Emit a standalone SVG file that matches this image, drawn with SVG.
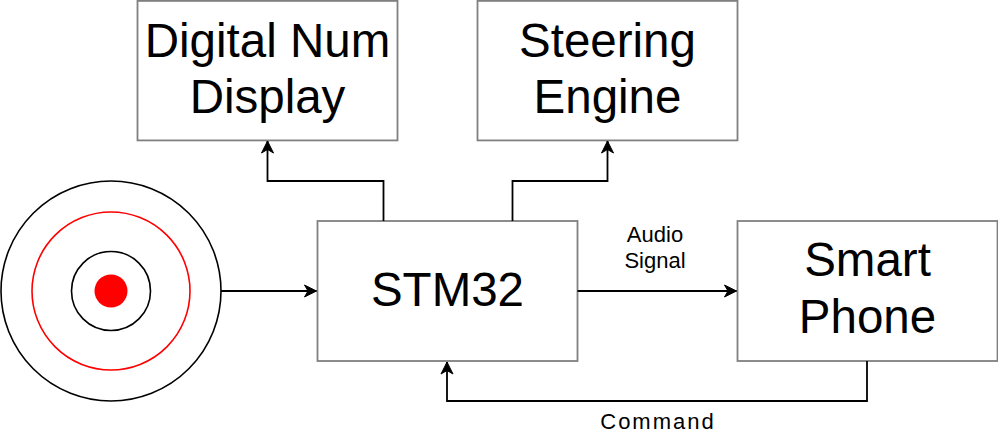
<svg xmlns="http://www.w3.org/2000/svg" width="998" height="442" viewBox="0 0 998 442">
  <style>
    .box { fill: #ffffff; stroke: #808080; stroke-width: 1.8; }
    .big { font-family: "Liberation Sans", Arial, sans-serif; font-size: 47.5px; fill: #000; text-anchor: middle; }
    .small { font-family: "Liberation Sans", Arial, sans-serif; font-size: 22px; fill: #000; text-anchor: middle; }
    .edge { fill: none; stroke: #000; stroke-width: 1.8; }
  </style>
  <defs>
    <marker id="arrow" markerUnits="userSpaceOnUse" viewBox="-13 -7 14 14" refX="0" refY="0" markerWidth="14" markerHeight="14" orient="auto">
      <path d="M0,0 L-12,-6 L-8.5,0 L-12,6 Z" fill="#000" stroke="#000" stroke-width="1"/>
    </marker>
  </defs>
  <rect width="998" height="442" fill="#ffffff"/>

  <g id="target">
    <circle cx="111" cy="291" r="110" fill="#ffffff" stroke="#000" stroke-width="1.6"/>
    <circle cx="111" cy="291" r="79" fill="none" stroke="#ff0000" stroke-width="1.6"/>
    <circle cx="111" cy="291" r="39.5" fill="none" stroke="#000" stroke-width="1.6"/>
    <circle cx="111" cy="291" r="16.5" fill="#ff0000"/>
  </g>

  <g id="digital-num-display">
    <rect class="box" x="137.5" y="0.9" width="260" height="139.5"/>
    <text class="big" x="267.5" y="57">Digital Num</text>
    <text class="big" x="267.5" y="113">Display</text>
  </g>

  <g id="steering-engine">
    <rect class="box" x="477.5" y="0.9" width="260" height="139.5"/>
    <text class="big" x="607.5" y="57">Steering</text>
    <text class="big" x="607.5" y="113">Engine</text>
  </g>

  <g id="stm32">
    <rect class="box" x="317.5" y="221" width="260" height="140"/>
    <text class="big" x="447.5" y="305.5">STM32</text>
  </g>

  <g id="smart-phone">
    <rect class="box" x="737.5" y="221" width="260" height="140"/>
    <text class="big" x="867.5" y="276">Smart</text>
    <text class="big" x="867.5" y="332.5">Phone</text>
  </g>

  <g id="connectors">
    <path class="edge" d="M221,291 L316.5,291" marker-end="url(#arrow)"/>
    <path class="edge" d="M383.5,221 L383.5,181 L267.5,181 L267.5,141" marker-end="url(#arrow)"/>
    <path class="edge" d="M512.5,221 L512.5,181 L607.5,181 L607.5,141" marker-end="url(#arrow)"/>
    <path class="edge" d="M577.5,291 L736.5,291" marker-end="url(#arrow)"/>
    <path class="edge" d="M867,361 L867,401 L447,401 L447,362" marker-end="url(#arrow)"/>
    <text class="small" x="655" y="242">Audio</text>
    <text class="small" x="655" y="268">Signal</text>
    <text class="small" x="658" y="429" style="letter-spacing:2px">Command</text>
  </g>
</svg>
